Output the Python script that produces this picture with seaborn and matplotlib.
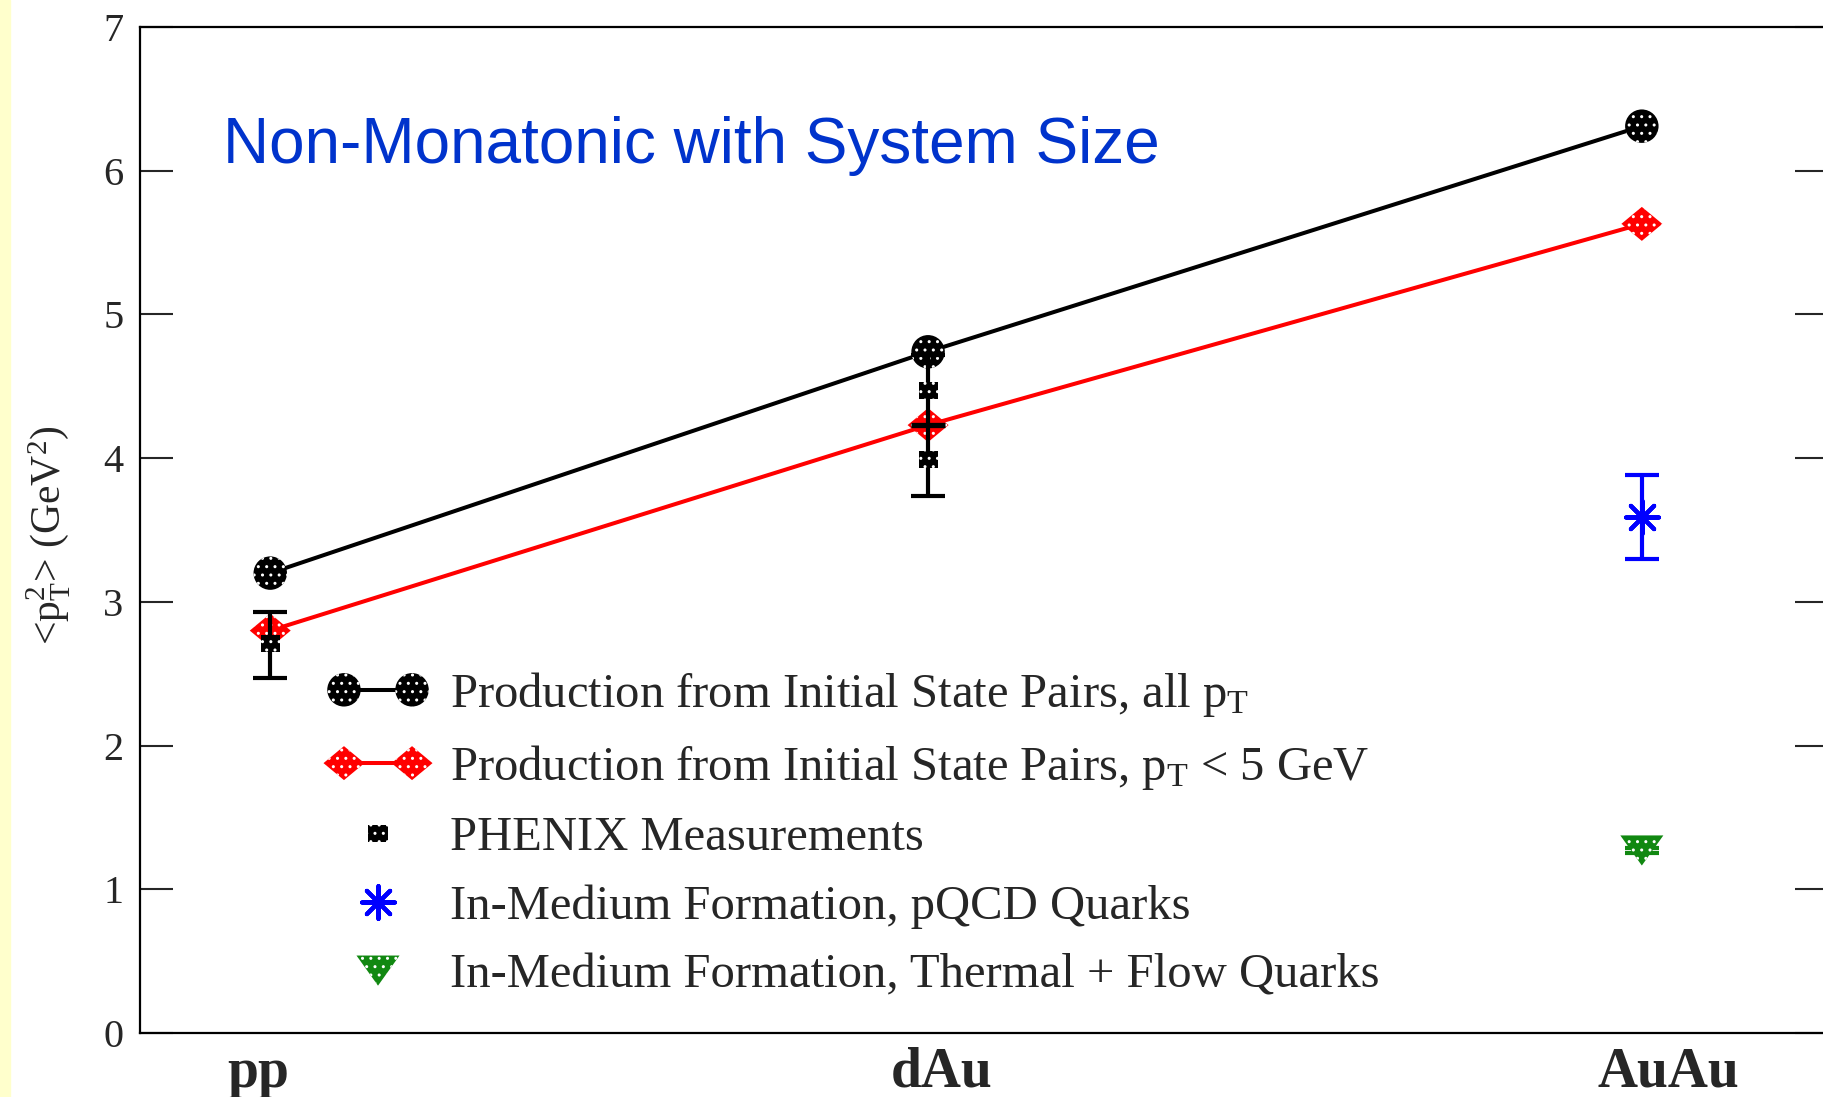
import numpy as np
import pandas as pd
import matplotlib
matplotlib.use("Agg")
import matplotlib.pyplot as plt
import seaborn as sns
from matplotlib.lines import Line2D
from matplotlib.patches import Rectangle
from matplotlib.legend_handler import HandlerTuple, HandlerPathCollection

# ---------------- data ----------------
systems = ["pp", "dAu", "AuAu"]
system_x = [1.0, 2.0, 3.085]
label_x = [0.982, 2.020, 3.126]

all_pt = [3.20, 4.74, 6.31]
pt_below5 = [2.80, 4.23, 5.63]

phenix_system = ["pp", "dAu", "dAu"]
phenix_value = [2.71, 4.47, 3.99]
phenix_bar_system = ["pp", "dAu"]
phenix_bar_center = [2.70, 4.23]
phenix_bar_err = [0.23, 0.49]

pqcd_system = ["AuAu"]
pqcd_value = [3.59]
pqcd_err = [0.29]

thermal_system = ["AuAu"]
thermal_value = [1.27]
thermal_err = [0.02]

y_ticks = [0, 1, 2, 3, 4, 5, 6, 7]

labels = [
    r"Production from Initial State Pairs, all $\mathrm{p}_\mathrm{T}$",
    r"Production from Initial State Pairs, $\mathrm{p}_\mathrm{T}$ < 5 GeV",
    "PHENIX Measurements",
    "In-Medium Formation, pQCD Quarks",
    "In-Medium Formation, Thermal + Flow Quarks",
]

# ---------------- style ----------------
sns.set_style("white")
plt.rcParams["font.family"] = ["Liberation Serif", "DejaVu Serif"]
plt.rcParams["mathtext.fontset"] = "custom"
plt.rcParams["mathtext.rm"] = "Liberation Serif"
plt.rcParams["mathtext.it"] = "Liberation Serif:italic"
plt.rcParams["mathtext.bf"] = "Liberation Serif:bold"
plt.rcParams["hatch.linewidth"] = 1.0

xmap = dict(zip(systems, system_x))

df_lines = pd.DataFrame({"x": system_x, "all": all_pt, "lt5": pt_below5})
df_phenix = pd.DataFrame({"x": [xmap[s] for s in phenix_system], "y": phenix_value})

fig = plt.figure(figsize=(18.24, 10.97), dpi=100)
fig.patches.append(Rectangle((0, 0), 10 / 1824, 1, transform=fig.transFigure,
                             color="#FFFFCC", zorder=0))
ax = fig.add_axes([140 / 1824, 64 / 1097, 1688 / 1824, 1006 / 1097])

diamond = [(-1, 0), (0, 0.83), (1, 0), (0, -0.83), (-1, 0)]
tri_down = [(-1, 0.7), (1, 0.7), (0, -0.7), (-1, 0.7)]
small_sq = [(-1, -0.85), (1, -0.85), (1, 0.85), (-1, 0.85), (-1, -0.85)]

# lines
sns.lineplot(data=df_lines, x="x", y="all", color="black", lw=2.9, ax=ax, zorder=2)
sns.lineplot(data=df_lines, x="x", y="lt5", color="#FF0000", lw=2.9, ax=ax, zorder=2)

# markers on the lines
sc_all = ax.scatter(df_lines["x"], df_lines["all"], marker="o", s=580,
                    facecolor="black", edgecolor="white", linewidths=0,
                    hatch="..", zorder=3)
sc_lt5 = ax.scatter(df_lines["x"], df_lines["lt5"], marker=diamond, s=870,
                    facecolor="#FF0000", edgecolor="white", linewidths=0,
                    hatch="..", zorder=3)

# PHENIX error bars
ax.errorbar([xmap[s] for s in phenix_bar_system], phenix_bar_center,
            yerr=phenix_bar_err, fmt="none", ecolor="black", elinewidth=3,
            capsize=12, capthick=3, zorder=4)
sns.scatterplot(x=[xmap["dAu"]], y=[phenix_bar_center[1]], marker="_", s=620,
                linewidth=3.8, color="black", ax=ax, zorder=4)
sc_phx = ax.scatter(df_phenix["x"], df_phenix["y"], marker=small_sq, s=190,
                    facecolor="black", edgecolor="white", linewidths=0,
                    hatch="..", zorder=5)

# pQCD
ax.errorbar([xmap[s] for s in pqcd_system], pqcd_value, yerr=pqcd_err,
            fmt="none", ecolor="#0000FF", elinewidth=3, capsize=12,
            capthick=3, zorder=4)
sc_pqcd = ax.scatter([xmap[s] for s in pqcd_system], pqcd_value,
                     marker=(8, 2, 0), s=560, color="#0000FF",
                     linewidths=3, zorder=5)

# thermal
ax.errorbar([xmap[s] for s in thermal_system], thermal_value, yerr=thermal_err,
            fmt="none", ecolor="#118811", elinewidth=3, capsize=12,
            capthick=3, zorder=4)
sc_th = ax.scatter([xmap[s] for s in thermal_system], thermal_value,
                   marker=tri_down, s=960, facecolor="#118811",
                   edgecolor="white", linewidths=0, hatch="..", zorder=5)

# axes
ax.set_xlim(0.802, 3.368)
ax.set_ylim(0, 7)
ax.set_yticks(y_ticks)
ax.set_yticklabels([str(t) for t in y_ticks])
ax.set_xticks(label_x)
ax.set_xticklabels(systems, fontweight="bold", fontsize=40)
ax.tick_params(axis="y", direction="in", length=24, width=1.5, left=True,
               right=True, labelsize=29, pad=12)
ax.tick_params(axis="x", length=0, pad=10)
for sp in ax.spines.values():
    sp.set_visible(True)
    sp.set_linewidth(1.6)
    sp.set_color("black")
ax.set_xlabel("")
ax.set_ylabel(r"<$\mathrm{p}_\mathrm{T}^2$> (GeV$^2$)", fontsize=30)
ax.yaxis.set_label_coords(-0.0405, 0.495)

ax.text(0.049, 0.865, "Non-Monatonic with System Size", transform=ax.transAxes,
        fontsize=46, color="#0033CC", family=["Liberation Sans", "DejaVu Sans"],
        ha="left", va="baseline")

# legend
ln_all = Line2D([], [], color="black", lw=2.9)
ln_lt5 = Line2D([], [], color="#FF0000", lw=2.9)
handles = [(ln_all, sc_all), (ln_lt5, sc_lt5), sc_phx, sc_pqcd, sc_th]
hmap = {
    tuple: HandlerTuple(ndivide=1),
    sc_all: HandlerPathCollection(numpoints=2, yoffsets=[0.5, 0.5]),
    sc_lt5: HandlerPathCollection(numpoints=2, yoffsets=[0.5, 0.5]),
}
leg = ax.legend(handles, labels, handler_map=hmap, loc="upper left",
                bbox_to_anchor=(0.1122, 0.361), frameon=False, fontsize=35,
                numpoints=2, scatterpoints=1, scatteryoffsets=[0.5],
                handlelength=2.0, handletextpad=0.48, borderpad=0,
                borderaxespad=0, labelspacing=0.5)

fig.savefig("out.png", dpi=100)
